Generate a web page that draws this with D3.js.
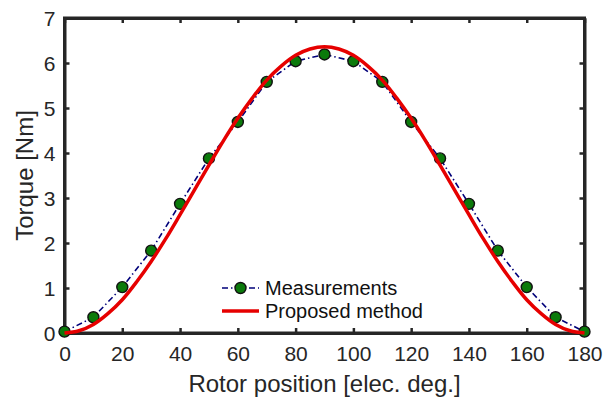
<!DOCTYPE html>
<html>
<head>
<meta charset="utf-8">
<script src="https://cdn.jsdelivr.net/npm/d3@7"></script>
<style>
  html, body { margin: 0; padding: 0; background: #fff; }
  svg { display: block; font-family: "Liberation Sans", Arial, Helvetica, sans-serif; }
</style>
</head>
<body>
<svg id="chart" width="614" height="401"></svg>
<script>
// Rotor position (electrical degrees) of each measured point
const measAngle = [0, 10, 20, 30, 40, 50, 60, 70, 80, 90, 100, 110, 120, 130, 140, 150, 160, 170, 180];
// Measured torque [Nm]
const measTorque = [0.03, 0.35, 1.02, 1.83, 2.87, 3.88, 4.69, 5.58, 6.04, 6.19, 6.04, 5.58, 4.69, 3.88, 2.87, 1.83, 1.02, 0.35, 0.03];

// Torque predicted by the proposed method, sampled every 5 electrical degrees
const predAngle = [0, 5, 10, 15, 20, 25, 30, 35, 40, 45, 50, 55, 60, 65, 70, 75, 80, 85, 90,
                   95, 100, 105, 110, 115, 120, 125, 130, 135, 140, 145, 150, 155, 160, 165, 170, 175, 180];
const predTorque = [0.00, 0.05, 0.19, 0.43, 0.74, 1.14, 1.59, 2.09, 2.63, 3.18, 3.73, 4.27, 4.77, 5.22, 5.62, 5.93, 6.17, 6.31, 6.36,
                    6.31, 6.17, 5.93, 5.62, 5.22, 4.77, 4.27, 3.73, 3.18, 2.63, 2.09, 1.59, 1.14, 0.74, 0.43, 0.19, 0.05, 0.00];

const xTicks = [0, 20, 40, 60, 80, 100, 120, 140, 160, 180];
const yTicks = [0, 1, 2, 3, 4, 5, 6, 7];

const seriesNames = ["Measurements", "Proposed method"];

(function draw() {
  const svg = d3.select("#chart");
  const m = { left: 64.5, right: 584.5, top: 18, bottom: 333 };

  const x = d3.scaleLinear().domain([0, 180]).range([m.left, m.right]);
  const y = d3.scaleLinear().domain([0, 7]).range([m.bottom, m.top]);

  const axisColor = "#262626";
  const tickLen = 5;
  const fmt = d3.format("d");

  // Axes: ticks point inward and are mirrored on the top and right edges
  const gx = svg.append("g").attr("transform", `translate(0,${m.bottom})`)
    .call(d3.axisBottom(x).tickValues(xTicks).tickFormat(fmt).tickSizeInner(-tickLen).tickSizeOuter(0).tickPadding(12));
  const gxTop = svg.append("g").attr("transform", `translate(0,${m.top})`)
    .call(d3.axisTop(x).tickValues(xTicks).tickSizeInner(-tickLen).tickSizeOuter(0).tickFormat(""));
  const gy = svg.append("g").attr("transform", `translate(${m.left},0)`)
    .call(d3.axisLeft(y).tickValues(yTicks).tickFormat(fmt).tickSizeInner(-tickLen).tickSizeOuter(0).tickPadding(9));
  const gyRight = svg.append("g").attr("transform", `translate(${m.right},0)`)
    .call(d3.axisRight(y).tickValues(yTicks).tickSizeInner(-tickLen).tickSizeOuter(0).tickFormat(""));

  [gx, gxTop, gy, gyRight].forEach(g => {
    g.select(".domain").attr("stroke", axisColor).attr("stroke-width", 3);
    g.selectAll(".tick line").attr("stroke", axisColor).attr("stroke-width", 2.5);
    g.selectAll(".tick text").attr("fill", axisColor).style("font-size", "21px")
      .style("font-family", "'Liberation Sans', Arial, sans-serif");
  });
  gx.selectAll(".tick text").attr("dy", "0.75em");
  gy.selectAll(".tick text").attr("dy", "0.35em");

  // Frame
  svg.append("rect")
    .attr("x", m.left).attr("y", m.top)
    .attr("width", m.right - m.left).attr("height", m.bottom - m.top)
    .attr("fill", "none").attr("stroke", axisColor).attr("stroke-width", 3);

  // Axis titles
  svg.append("text")
    .attr("x", (m.left + m.right) / 2).attr("y", 392)
    .attr("text-anchor", "middle").attr("fill", axisColor)
    .style("font-size", "24px")
    .text("Rotor position [elec. deg.]");
  svg.append("text")
    .attr("transform", `translate(33,${(m.top + m.bottom) / 2}) rotate(-90)`)
    .attr("text-anchor", "middle").attr("fill", axisColor)
    .style("font-size", "24px")
    .text("Torque [Nm]");

  // Measurements: dash-dot line with filled markers
  const measData = measAngle.map((a, i) => ({ a, t: measTorque[i] }));
  const measLine = d3.line().x(d => x(d.a)).y(d => y(d.t));
  svg.append("path").datum(measData)
    .attr("d", measLine)
    .attr("fill", "none").attr("stroke", "#00007a").attr("stroke-width", 1.6)
    .attr("stroke-dasharray", "6,3,1.5,3");
  svg.append("g").selectAll("circle").data(measData).join("circle")
    .attr("cx", d => x(d.a)).attr("cy", d => y(d.t)).attr("r", 5.5)
    .attr("fill", "#0b7a0b").attr("stroke", "#111").attr("stroke-width", 1.4);

  // Proposed method: solid red curve
  const predData = predAngle.map((a, i) => ({ a, t: predTorque[i] }));
  const predLine = d3.line().x(d => x(d.a)).y(d => y(d.t)).curve(d3.curveCatmullRom);
  svg.append("path").datum(predData)
    .attr("d", predLine)
    .attr("fill", "none").attr("stroke", "#e60000").attr("stroke-width", 3.5);

  // Legend
  const legend = svg.append("g");
  const lx0 = 222, lx1 = 259, ly0 = 288, ly1 = 311;
  legend.append("line").attr("x1", lx0).attr("x2", lx1).attr("y1", ly0).attr("y2", ly0)
    .attr("stroke", "#00007a").attr("stroke-width", 1.6).attr("stroke-dasharray", "6,3,1.5,3");
  legend.append("circle").attr("cx", (lx0 + lx1) / 2).attr("cy", ly0).attr("r", 5.5)
    .attr("fill", "#0b7a0b").attr("stroke", "#111").attr("stroke-width", 1.4);
  legend.append("line").attr("x1", lx0).attr("x2", lx1).attr("y1", ly1).attr("y2", ly1)
    .attr("stroke", "#e60000").attr("stroke-width", 3.5);
  legend.selectAll("text.lbl").data(seriesNames).join("text")
    .attr("class", "lbl")
    .attr("x", 265).attr("y", (d, i) => [ly0, ly1][i])
    .attr("dy", "0.35em").attr("fill", "#111")
    .style("font-size", "20px")
    .text(d => d);
})();
</script>
</body>
</html>
